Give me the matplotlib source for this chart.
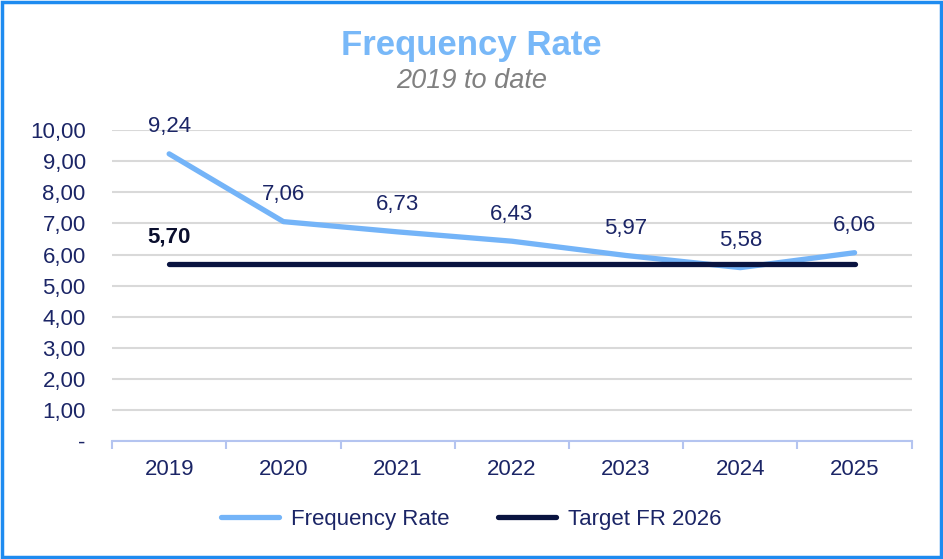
import matplotlib
matplotlib.use("Agg")
import matplotlib.pyplot as plt
from matplotlib.patches import Rectangle

years = ["2019", "2020", "2021", "2022", "2023", "2024", "2025"]
freq_rate = [9.24, 7.06, 6.73, 6.43, 5.97, 5.58, 6.06]
target = [5.70] * 7
yticks = [0, 1, 2, 3, 4, 5, 6, 7, 8, 9, 10]

plt.rcParams['font.family'] = ['Liberation Sans', 'DejaVu Sans']
navy = '#1B2566'
light = '#74B4F8'
dark = '#0A1440'
fs = 16

fig = plt.figure(figsize=(9.43, 5.59), dpi=100)
fig.patches.append(Rectangle((0.002, 0.003), 0.996, 0.994, transform=fig.transFigure,
                             fill=False, edgecolor='#1E8BF0', linewidth=2.5))

ax = fig.add_axes([0.1188, 0.211, 0.848, 0.556])
x = list(range(len(years)))
ax.plot(x, freq_rate, color=light, linewidth=3.8, solid_capstyle='round', label='Frequency Rate', zorder=3)
ax.plot(x, target, color=dark, linewidth=3.8, solid_capstyle='round', label='Target FR 2026', zorder=4)

for xi, v in zip(x, freq_rate):
    ax.annotate(f"{v:.2f}".replace('.', ','), (xi, v), xytext=(0, 12), textcoords='offset points',
                ha='center', va='bottom', fontsize=fs, color=navy)
ax.annotate(f"{target[0]:.2f}".replace('.', ','), (0, target[0]), xytext=(0, 12), textcoords='offset points',
            ha='center', va='bottom', fontsize=fs, color='#0A0F2E', fontweight='bold')

ax.set_xlim(-0.5, len(years) - 0.5)
ax.set_ylim(0, 10)
ax.set_yticks(yticks)
ax.set_yticklabels(['-' if t == 0 else f"{t:.2f}".replace('.', ',') for t in yticks])
ax.set_xticks(x)
ax.set_xticklabels(years)
ax.tick_params(axis='y', length=0, labelsize=fs, labelcolor=navy, pad=19)
ax.tick_params(axis='x', length=0, labelsize=fs, labelcolor=navy, pad=13)
ax.set_xticks([i - 0.5 for i in range(len(years) + 1)], minor=True)
ax.tick_params(axis='x', which='minor', length=6, color='#B4C4F0', width=1.5, direction='out')

ax.grid(axis='y', color='#D9D9D9', linewidth=1.5)
ax.set_axisbelow(True)
for s in ['top', 'right', 'left']:
    ax.spines[s].set_visible(False)
ax.spines['bottom'].set_color('#B4C4F0')
ax.spines['bottom'].set_linewidth(1.5)

fig.text(0.5, 0.918, 'Frequency Rate', ha='center', va='center', fontsize=25, fontweight='bold', color='#78B8F8')
fig.text(0.5, 0.855, '2019 to date', ha='center', va='center', fontsize=19.5, style='italic', color='#808080')

leg = fig.legend(loc='center', bbox_to_anchor=(0.5, 0.071), ncol=2, frameon=False, fontsize=fs,
                 handlelength=2.6, columnspacing=2.2, handletextpad=0.55)
for t in leg.get_texts():
    t.set_color(navy)

fig.savefig('out.png', dpi=100)
